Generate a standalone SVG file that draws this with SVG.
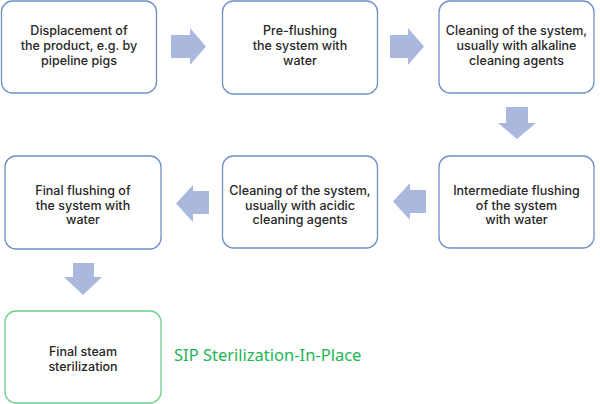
<svg xmlns="http://www.w3.org/2000/svg" width="600" height="404" viewBox="0 0 600 404">
<style>
.box{fill:#fff;stroke:#6f8fc6;stroke-width:1.3}
.gbox{fill:#fff;stroke:#6ccf8c;stroke-width:1.3}
.t{font-family:Inter,"Noto Sans",sans-serif;font-size:12.5px;font-weight:500;fill:#262626;text-anchor:middle}
.arr{fill:#abb8de}
.sip{font-family:"Noto Sans","Open Sans",sans-serif;font-size:16.5px;fill:#22b555}
</style>
<rect width="600" height="404" fill="#fff"/>
<g id="connectors">
<polygon class="arr" points="171,35 190,35 190,28 206,46.5 190,65 190,58 171,58"/>
<polygon class="arr" points="390,35 408,35 408,28 424,46.5 408,65 408,58 390,58"/>
<polygon class="arr" points="506,107 528,107 528,123 536,123 517,139 498,123 506,123"/>
<polygon class="arr" points="426,190 410,190 410,183 393,201.5 410,220 410,213 426,213"/>
<polygon class="arr" points="209,191 193,191 193,185 176,203.5 193,222 193,214 209,214"/>
<polygon class="arr" points="73,263 94,263 94,277 102,277 83,295 64,277 73,277"/>
</g>
<g id="n1"><rect class="box" x="1.5" y="1" width="155" height="92" rx="11"/>
<text class="t" x="79" y="35">Displacement of</text><text class="t" x="79" y="50">the product, e.g. by</text><text class="t" x="79" y="65">pipeline pigs</text></g>
<g id="n2"><rect class="box" x="222.5" y="1" width="155" height="93" rx="11"/>
<text class="t" x="300" y="35">Pre-flushing</text><text class="t" x="300" y="50">the system with</text><text class="t" x="300" y="65">water</text></g>
<g id="n3"><rect class="box" x="439" y="1" width="155" height="92" rx="11"/>
<text class="t" x="516.5" y="35">Cleaning of the system,</text><text class="t" x="516.5" y="50">usually with alkaline</text><text class="t" x="516.5" y="65">cleaning agents</text></g>
<g id="n4"><rect class="box" x="439" y="156" width="155" height="92" rx="11"/>
<text class="t" x="516.5" y="195">Intermediate flushing</text><text class="t" x="516.5" y="210">of the system</text><text class="t" x="516.5" y="224">with water</text></g>
<g id="n5"><rect class="box" x="222.5" y="156" width="155" height="92" rx="11"/>
<text class="t" x="300" y="195">Cleaning of the system,</text><text class="t" x="300" y="210">usually with acidic</text><text class="t" x="300" y="224">cleaning agents</text></g>
<g id="n6"><rect class="box" x="5" y="156" width="156" height="93" rx="11"/>
<text class="t" x="83" y="195">Final flushing of</text><text class="t" x="83" y="210">the system with</text><text class="t" x="83" y="224">water</text></g>
<g id="n7"><rect class="gbox" x="5" y="311" width="156" height="92" rx="11"/>
<text class="t" x="83" y="356">Final steam</text><text class="t" x="83" y="371">sterilization</text></g>
<text class="sip" x="174" y="361">SIP Sterilization-In-Place</text>
</svg>
